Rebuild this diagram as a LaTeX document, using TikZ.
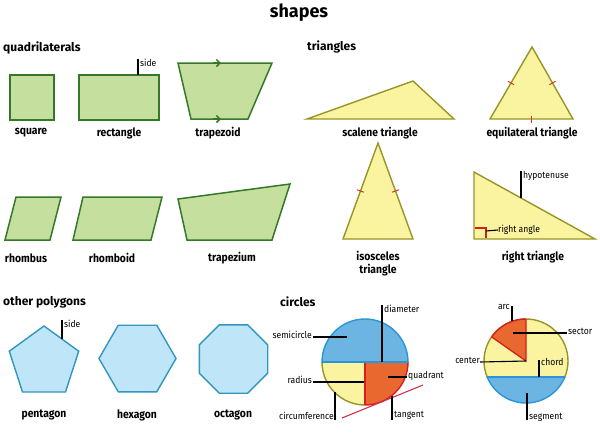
\documentclass[tikz,border=0pt]{standalone}
\usepackage{fontspec}
\setmainfont{Fira Sans}
\newfontfamily\labfont[FakeStretch=0.9]{Fira Sans}
\usetikzlibrary{calc,arrows.meta}
\definecolor{qfill}{RGB}{197,223,158}
\definecolor{qline}{RGB}{52,120,40}
\definecolor{tfill}{RGB}{250,243,160}
\definecolor{tline}{RGB}{150,150,40}
\definecolor{pfill}{RGB}{190,230,248}
\definecolor{pline}{RGB}{50,150,190}
\definecolor{cblue}{RGB}{108,180,225}
\definecolor{cbline}{RGB}{40,150,215}
\definecolor{corange}{RGB}{232,104,48}
\definecolor{cred}{RGB}{215,30,30}
\definecolor{tickred}{RGB}{220,50,40}
\definecolor{tanred}{RGB}{210,50,80}
\begin{document}
\begin{tikzpicture}[x=1pt,y=-1pt,
  quad/.style={fill=qfill,draw=qline,line width=1.5pt,line join=miter},
  tri/.style={fill=tfill,draw=tline,line width=1.4pt,line join=miter},
  poly/.style={fill=pfill,draw=pline,line width=1.4pt,line join=miter},
  titlelab/.style={inner sep=0,font=\bfseries\fontsize{18}{20}\selectfont},
  head/.style={inner sep=0,anchor=west,font=\bfseries\fontsize{12}{14}\selectfont},
  lab/.style={inner sep=0,align=center,font=\labfont\bfseries\fontsize{11.5}{13}\selectfont},
  small/.style={inner sep=0,font=\labfont\fontsize{9.5}{11}\selectfont},
  leader/.style={draw=black,line width=1.1pt},
  marktick/.style={draw=tickred,line width=1pt},
  barb/.style={-{Straight Barb[length=3.5pt,width=7pt]},draw=qline,line width=1.5pt}]
\useasboundingbox[fill=white] (0,0) rectangle (600,440);

% title and headings
\node[titlelab] (title) at (299,13) {shapes};
\node[head] (hquad) at (3,48) {quadrilaterals};
\node[head] (htri) at (307,47) {triangles};
\node[head] (hpoly) at (3,302) {other polygons};
\node[head] (hcirc) at (280,302) {circles};

% ---------- quadrilaterals ----------
\draw[quad] (10,75) rectangle (54,120);
\draw[quad] (79,75) rectangle (159,120);
\coordinate (rs1) at (138,75);
\node[small,anchor=west] (rside) at (140,63) {side};
\draw[leader] (rs1) -- (138,59);
\draw[quad] (178,63) -- (272,63) -- (248,119) -- (191,119) -- cycle;
\draw[barb] (213,63) -- (221,63);
\draw[barb] (213,119) -- (221,119);
\node[lab] (lsquare) at (31,133) {square};
\node[lab] (lrect) at (119,133) {rectangle};
\node[lab] (ltrapzd) at (218,133) {trapezoid};

\draw[quad] (5,240) -- (16,197) -- (61,197) -- (50,240) -- cycle;
\draw[quad] (73,240) -- (83,197) -- (162,197) -- (151,240) -- cycle;
\draw[quad] (178,199) -- (290,184) -- (272,240) -- (187,240) -- cycle;
\node[lab] (lrhombus) at (26,258) {rhombus};
\node[lab] (lrhomboid) at (112,258) {rhomboid};
\node[lab] (ltrapzm) at (232,258) {trapezium};

% ---------- triangles ----------
\draw[tri] (307,119) -- (413,81) -- (454,119) -- cycle;
\node[lab] (lscal) at (380,133) {scalene triangle};

\coordinate (eA) at (532,47);
\coordinate (eB) at (490,119);
\coordinate (eC) at (573,119);
\draw[tri] (eA) -- (eB) -- (eC) -- cycle;
\draw[marktick] ($(eA)!0.5!(eB)!3.5pt!90:(eB)$) -- ($(eA)!0.5!(eB)!3.5pt!-90:(eB)$);
\draw[marktick] ($(eA)!0.5!(eC)!3.5pt!90:(eC)$) -- ($(eA)!0.5!(eC)!3.5pt!-90:(eC)$);
\draw[marktick] ($(eB)!0.5!(eC)!3.5pt!90:(eC)$) -- ($(eB)!0.5!(eC)!3.5pt!-90:(eC)$);
\node[lab] (lequi) at (532,133) {equilateral triangle};

\coordinate (iA) at (378,143);
\coordinate (iB) at (343,239);
\coordinate (iC) at (413,239);
\draw[tri] (iA) -- (iB) -- (iC) -- cycle;
\draw[marktick] ($(iA)!0.5!(iB)!3.5pt!90:(iB)$) -- ($(iA)!0.5!(iB)!3.5pt!-90:(iB)$);
\draw[marktick] ($(iA)!0.5!(iC)!3.5pt!90:(iC)$) -- ($(iA)!0.5!(iC)!3.5pt!-90:(iC)$);
\node[lab] (liso) at (378,264) {isosceles\\triangle};

\draw[tri] (474,172) -- (474,239) -- (595,239) -- cycle;
\draw[draw=cred,line width=1.2pt] (475,228) -- (486,228) -- (486,238);
\coordinate (hyp) at (521,198);
\node[small,anchor=west] (lhyp) at (523,176) {hypotenuse};
\draw[leader] (hyp) -- (521,171);
\coordinate (ra) at (486,231);
\node[small,anchor=west] (lra) at (498,230) {right angle};
\draw[leader] (ra) -- (lra.west);
\node[lab] (lright) at (533,257) {right triangle};

% ---------- other polygons ----------
\draw[poly] (44,326) -- (78.7,351.2) -- (65.5,392) -- (22.5,392) -- (9.3,351.2) -- cycle;
\coordinate (ps) at (62,338.5);
\node[small,anchor=west] (pside) at (64,324) {side};
\draw[leader] (ps) -- (62,320);
\draw[poly] (99,358.5) -- (118.25,325.2) -- (156.75,325.2) -- (176,358.5) -- (156.75,391.8) -- (118.25,391.8) -- cycle;
\draw[poly] (267.7,344.8) -- (267.7,373.2) -- (247.7,393.2) -- (219.3,393.2) -- (199.3,373.2) -- (199.3,344.8) -- (219.3,324.8) -- (247.7,324.8) -- cycle;
\node[lab] (lpent) at (44,415) {pentagon};
\node[lab] (lhex) at (137,415) {hexagon};
\node[lab] (loct) at (233,415) {octagon};

% ---------- circle 1 ----------
\coordinate (c1) at (365,362);
\begin{scope}
  \clip (c1) circle[radius=43];
  \fill[cblue] (315,310) rectangle (415,362);
  \fill[tfill] (315,362) rectangle (365,410);
  \fill[corange] (365,362) rectangle (415,410);
\end{scope}
\begin{scope}
  \clip (310,300) rectangle (420,362);
  \draw[cbline,line width=1.4pt] (c1) circle[radius=43];
\end{scope}
\begin{scope}
  \clip (310,362) rectangle (365,420);
  \draw[tline,line width=1.4pt] (c1) circle[radius=43];
\end{scope}
\begin{scope}
  \clip (365,362) rectangle (420,420);
  \draw[cred,line width=1.4pt] (c1) circle[radius=43];
\end{scope}
\draw[cred,line width=1.3pt] (c1) -- (365,405);
\draw[cbline,line width=1.3pt] (322,362) -- (408,362);
\coordinate (t1) at (342,418);
\coordinate (t2) at (423,385);
\draw[tanred,line width=1.1pt] (t1) -- (t2);

\node[small,anchor=west] (ldiam) at (384,309) {diameter};
\draw[leader] (382,305) -- (382,362);
\node[small,anchor=east] (lsemi) at (312,335) {semicircle};
\draw[leader] (313,337) -- (347,337);
\node[small,anchor=east] (lrad) at (312,380) {radius};
\draw[leader] (313,382) -- (364,382);
\node[small,anchor=west] (lquad) at (408,376) {quadrant};
\draw[leader] (388,377) -- (407,377);
\node[small,anchor=east] (lcirc) at (334,416) {circumference};
\draw[leader] (335,392) -- (335,420);
\node[small,anchor=west] (ltan) at (394,415) {tangent};
\draw[leader] (392,396) -- (392,420);

% ---------- circle 2 ----------
\coordinate (c2) at (526,361);
\fill[tfill] (c2) circle[radius=42];
\begin{scope}
  \clip (c2) circle[radius=42];
  \fill[cblue] (480,377) rectangle (575,410);
  \fill[corange] (c2) -- (526,261) -- (444.1,303.6) -- cycle;
\end{scope}
\begin{scope}
  \clip (475,310) rectangle (580,377);
  \draw[tline,line width=1.4pt] (c2) circle[radius=42];
\end{scope}
\begin{scope}
  \clip (475,377) rectangle (580,410);
  \draw[cbline,line width=1.4pt] (c2) circle[radius=42];
\end{scope}
\draw[cbline,line width=1.3pt] (487.2,377) -- (564.8,377);
\begin{scope}
  \clip (c2) -- (526,261) -- (444.1,303.6) -- cycle;
  \draw[cred,line width=1.4pt] (c2) circle[radius=42];
\end{scope}
\draw[cred,line width=1.3pt] (491.6,336.9) -- (c2) -- (526,319);

\node[small,anchor=east] (larc) at (510,307) {arc};
\draw[leader] (512,306) -- (512,321);
\node[small,anchor=west] (lsector) at (568,331) {sector};
\draw[leader] (513,333) -- (567,333);
\node[small,anchor=east] (lcenter) at (480,360) {center};
\draw[leader] (480,362) -- (c2);
\node[small,anchor=west] (lchord) at (541,362) {chord};
\draw[leader] (539,377) -- (539,360);
\node[small,anchor=west] (lseg) at (529,417) {segment};
\draw[leader] (527,393) -- (527,420);
\end{tikzpicture}
\end{document}
